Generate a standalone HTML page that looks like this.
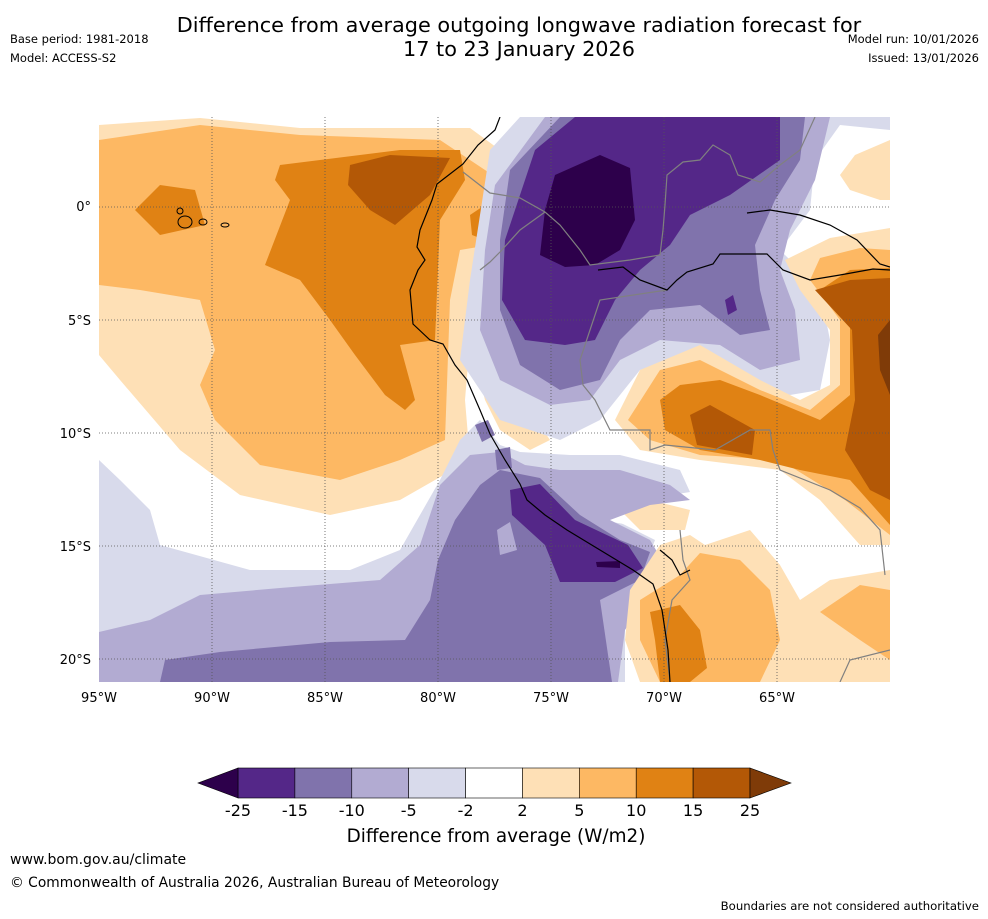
<!DOCTYPE html>
<html><head><meta charset="utf-8">
<style>
body{margin:0;width:988px;height:919px;background:#fff;font-family:"DejaVu Sans",sans-serif;position:relative;overflow:hidden}
.t{position:absolute;color:#000;white-space:nowrap}
</style></head>
<body>
<div class="t" style="left:0;width:1038px;top:13px;text-align:center;font-size:20.8px;line-height:24px">Difference from average outgoing longwave radiation forecast for<br>17 to 23 January 2026</div>
<div class="t" style="left:10px;top:32px;font-size:11.5px">Base period: 1981-2018</div>
<div class="t" style="left:10px;top:51px;font-size:11.5px">Model: ACCESS-S2</div>
<div class="t" style="right:9px;top:32px;font-size:11.5px">Model run: 10/01/2026</div>
<div class="t" style="right:9px;top:51px;font-size:11.5px">Issued: 13/01/2026</div>

<svg width="988" height="919" style="position:absolute;left:0;top:0">
<defs><clipPath id="mc"><rect x="99" y="117" width="791" height="565"/></clipPath></defs>
<g clip-path="url(#mc)">
<rect x="99" y="117" width="791" height="565" fill="#fff"/>
<polygon fill="#fee0b6" points="99,125 200,118 300,128 470,128 500,150 520,160 545,135 540,200 500,250 480,290 470,340 465,400 470,460 400,500 330,515 240,495 180,450 120,380 99,355"/>
<polygon fill="#fdb863" points="99,140 200,125 300,135 440,140 500,180 490,245 460,250 450,300 445,440 400,460 340,480 260,465 215,420 200,385 215,350 200,300 140,290 99,285"/>
<polygon fill="#e08214" points="280,165 400,150 460,150 465,180 440,220 435,340 400,345 415,400 405,410 385,395 355,355 330,320 300,280 265,265 290,200 275,180"/>
<polygon fill="#e08214" points="135,210 160,185 195,190 205,225 160,235"/>
<polygon fill="#e08214" points="470,215 485,205 492,225 485,240 472,235"/>
<polygon fill="#b35806" points="350,165 390,155 450,158 430,195 395,225 370,210 348,185"/>
<polygon fill="#fee0b6" points="475,360 490,355 510,380 530,410 550,440 530,450 500,430 485,400"/>
<polygon fill="#d8daeb" points="490,150 520,117 890,117 890,130 840,125 815,160 810,210 780,250 820,290 830,340 820,390 760,400 690,360 640,370 600,420 560,440 500,420 460,360 470,280"/>
<polygon fill="#b2abd2" points="495,185 545,117 830,117 815,180 790,230 780,270 795,310 800,360 760,370 720,345 660,340 620,360 590,400 550,405 500,380 480,330 485,250"/>
<polygon fill="#8073ac" points="510,170 560,117 805,117 800,160 775,200 755,245 760,290 770,330 740,335 700,305 650,310 620,340 600,380 560,390 520,365 500,310 500,240"/>
<polygon fill="#542788" points="535,150 575,117 780,117 780,160 730,195 690,215 670,245 640,270 615,300 595,340 565,345 525,340 502,300 505,240"/>
<polygon fill="#542788" points="725,300 733,295 737,310 728,315"/>
<polygon fill="#2d004b" points="555,175 600,155 630,168 635,220 620,250 595,265 565,267 540,255 545,210"/>
<polygon fill="#fee0b6" points="890,140 855,155 840,175 850,190 880,200 890,200"/>
<polygon fill="#fee0b6" points="615,420 640,370 700,345 760,380 800,400 830,385 830,330 800,290 785,260 830,238 890,228 890,545 860,545 820,500 780,470 700,460 640,450"/>
<polygon fill="#fdb863" points="628,420 660,370 700,360 760,390 810,410 840,385 840,320 810,280 820,258 860,248 890,250 890,535 845,500 780,460 700,455 650,440"/>
<polygon fill="#e08214" points="660,400 680,385 720,380 760,395 820,420 850,395 850,320 820,290 850,270 890,268 890,525 850,480 800,470 760,460 700,450 665,430"/>
<polygon fill="#b35806" points="815,290 850,280 890,278 890,500 870,490 845,450 855,400 852,330"/>
<polygon fill="#b35806" points="690,415 710,405 755,430 752,455 697,445"/>
<polygon fill="#7f3b08" points="878,335 890,320 890,395 880,370"/>
<polygon fill="#d8daeb" points="99,460 120,480 150,510 160,545 250,570 350,570 400,550 440,480 460,440 480,420 500,445 520,452 570,455 620,455 680,470 690,492 640,500 615,520 655,540 640,580 625,620 625,682 99,682"/>
<polygon fill="#fff" points="600,520 620,505 650,495 690,500 690,520 660,530"/>
<polygon fill="#fee0b6" points="620,510 650,500 690,510 685,530 640,530"/>
<polygon fill="#b2abd2" points="99,632 150,620 200,595 280,588 380,580 420,545 440,485 470,455 500,452 525,465 560,470 620,470 670,485 690,500 650,505 610,520 650,540 662,560 645,600 625,630 618,682 99,682"/>
<polygon fill="#8073ac" points="160,682 165,660 220,652 330,642 405,640 430,600 438,560 455,520 480,485 500,470 540,478 580,515 620,540 650,552 640,580 600,600 612,682"/>
<polygon fill="#b2abd2" points="497,530 510,522 517,550 500,555"/>
<polygon fill="#542788" points="510,490 540,484 575,520 628,545 643,568 615,582 560,582 545,545 512,515"/>
<polygon fill="#2d004b" points="596,562 620,561 620,568 597,567"/>
<polygon fill="#8073ac" points="475,425 488,420 495,435 482,442"/>
<polygon fill="#8073ac" points="495,450 510,447 512,468 497,470"/>
<polygon fill="#fee0b6" points="630,590 660,545 690,535 705,545 750,530 780,565 800,600 830,580 890,570 890,682 640,682 625,640"/>
<polygon fill="#fdb863" points="640,600 680,575 700,553 740,560 770,590 780,640 760,682 660,682 640,640"/>
<polygon fill="#fdb863" points="820,612 860,585 890,590 890,660 860,640"/>
<polygon fill="#e08214" points="650,612 680,605 700,630 707,668 690,682 660,682 655,640"/>
<g stroke="#555" stroke-width="0.8" stroke-dasharray="1,2">
<line x1="212" y1="117" x2="212" y2="682"/><line x1="325" y1="117" x2="325" y2="682"/><line x1="438" y1="117" x2="438" y2="682"/><line x1="551" y1="117" x2="551" y2="682"/><line x1="664" y1="117" x2="664" y2="682"/><line x1="777" y1="117" x2="777" y2="682"/>
<line x1="99" y1="207" x2="890" y2="207"/><line x1="99" y1="320" x2="890" y2="320"/><line x1="99" y1="433" x2="890" y2="433"/><line x1="99" y1="546" x2="890" y2="546"/><line x1="99" y1="659" x2="890" y2="659"/>
</g>
<g fill="none" stroke="#808080" stroke-width="1.2">
<polyline points="463,172 490,193 520,198 545,212 560,225 580,250 590,265 630,260 660,255 663,230 665,205 667,175 683,162 700,160 713,145 730,155 738,175 760,182 780,165 800,150 815,117"/>
<polyline points="480,270 490,262 500,252 520,230 545,212"/>
<polyline points="667,290 600,300 590,330 580,360 583,385 595,400 610,430 650,430 650,450 665,445 715,450 750,430 770,430 773,450 780,470 830,490 860,508 880,530 885,575"/>
<polyline points="680,530 683,560 690,580 672,600 665,640 670,682"/>
<polyline points="890,650 850,660 840,682"/>
</g>
<g fill="none" stroke="#000" stroke-width="1.2">
<polyline points="500,117 495,130 478,145 463,164 437,184 432,200 420,230 417,247 425,260 418,270 410,290 413,324 430,340 443,344 455,365 467,380 480,410 490,434 505,460 520,484 527,500 545,515 567,530 600,550 633,570 653,584 662,610 668,650 670,682"/>
<polyline points="747,213 770,210 800,215 830,225 857,240 880,264 890,267"/>
<polyline points="598,270 623,267 640,280 667,290 677,280 687,272 713,264 720,254 767,254 783,270 810,280 840,275 873,269 890,270"/>
<polyline points="660,550 672,560 680,575 690,570"/>
</g>
<g fill="none" stroke="#000" stroke-width="1">
<ellipse cx="185" cy="222" rx="7" ry="6"/><ellipse cx="203" cy="222" rx="4" ry="3"/><ellipse cx="225" cy="225" rx="4" ry="2"/><ellipse cx="180" cy="211" rx="3" ry="3"/>
</g>
</g>
<g font-size="13" fill="#000" font-family="DejaVu Sans, sans-serif">
<text x="91" y="211" text-anchor="end">0°</text><text x="91" y="325" text-anchor="end">5°S</text><text x="91" y="438" text-anchor="end">10°S</text><text x="91" y="551" text-anchor="end">15°S</text><text x="91" y="664" text-anchor="end">20°S</text>
<text x="99" y="702" text-anchor="middle">95°W</text><text x="212" y="702" text-anchor="middle">90°W</text><text x="325" y="702" text-anchor="middle">85°W</text><text x="438" y="702" text-anchor="middle">80°W</text><text x="551" y="702" text-anchor="middle">75°W</text><text x="664" y="702" text-anchor="middle">70°W</text><text x="777" y="702" text-anchor="middle">65°W</text>
</g>
<g id="cbar"></g>
</svg>

<div class="t" style="left:0;width:988px;text-align:center;top:826px;font-size:18.4px;padding-left:2px">Difference from average (W/m2)</div>
<div class="t" style="left:10px;top:852px;font-size:14px">www.bom.gov.au/climate</div>
<div class="t" style="left:10px;top:875px;font-size:13.8px">© Commonwealth of Australia 2026, Australian Bureau of Meteorology</div>
<div class="t" style="right:9px;top:899px;font-size:11.7px">Boundaries are not considered authoritative</div>

<script>
const cbTicks = ["-25","-15","-10","-5","-2","2","5","10","15","25"];
const cbColors = ["#542788","#8073ac","#b2abd2","#d8daeb","#ffffff","#fee0b6","#fdb863","#e08214","#b35806"];
const cbUnder = "#2d004b";
const cbOver = "#7f3b08";
const g = document.getElementById('cbar');
const NS = "http://www.w3.org/2000/svg";
const x0 = 238, x1 = 750, y0 = 768, h = 30;
const w = (x1 - x0) / cbColors.length;
cbColors.forEach((c, i) => {
  const r = document.createElementNS(NS, 'rect');
  r.setAttribute('x', x0 + i * w); r.setAttribute('y', y0);
  r.setAttribute('width', w); r.setAttribute('height', h);
  r.setAttribute('fill', c); r.setAttribute('stroke', '#000'); r.setAttribute('stroke-width', '0.6');
  
  
  g.appendChild(r);
});
const lt = document.createElementNS(NS, 'polygon');
lt.setAttribute('points', `${x0},${y0} ${x0 - 40},${y0 + h / 2} ${x0},${y0 + h}`);
lt.setAttribute('fill', cbUnder); lt.setAttribute('stroke', '#000'); lt.setAttribute('stroke-width', '0.6');


g.appendChild(lt);
const rt = document.createElementNS(NS, 'polygon');
rt.setAttribute('points', `${x1},${y0} ${x1 + 41},${y0 + h / 2} ${x1},${y0 + h}`);
rt.setAttribute('fill', cbOver); rt.setAttribute('stroke', '#000'); rt.setAttribute('stroke-width', '0.6');


g.appendChild(rt);
const step = (x1 - x0) / (cbTicks.length - 1);
cbTicks.forEach((t, i) => {
  const tx = document.createElementNS(NS, 'text');
  tx.setAttribute('x', x0 + i * step); tx.setAttribute('y', 816);
  tx.setAttribute('text-anchor', 'middle'); tx.setAttribute('font-size', '16');
  tx.setAttribute('font-family', 'DejaVu Sans, sans-serif');
  tx.textContent = t;
  
  
  g.appendChild(tx);
});
</script>
</body></html>
